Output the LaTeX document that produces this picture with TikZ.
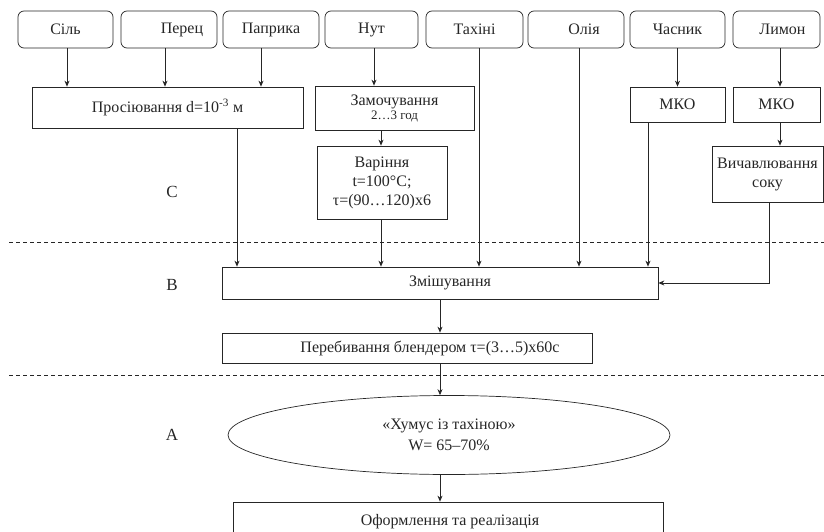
\documentclass[tikz,border=0pt]{standalone}
\usepackage{fontspec}
\setmainfont{Liberation Serif}
\usetikzlibrary{arrows.meta,shapes.geometric}
\begin{document}
\begin{tikzpicture}[x=1pt,y=-1pt,
 line width=0.7pt, draw=black!85,
 every node/.style={font=\fontsize{16}{19}\selectfont, inner sep=0pt, align=center, text=black!85},
 ingr/.style={draw, rounded corners=6pt},
 proc/.style={draw},
 arr/.style={-{Stealth[length=6pt,width=5pt]}},
 sepline/.style={dash pattern=on 4pt off 3pt},
 lbl/.style={font=\fontsize{17}{19}\selectfont}]
\useasboundingbox (0,0) rectangle (824,532);
\clip (0,0) rectangle (824,532);
% ingredients
\node[ingr, minimum width=95, minimum height=37] (sil) at (65.5,29.5) {Сіль};
\node[ingr, minimum width=96, minimum height=37] (per) at (169,29.5) {\hspace*{26pt}\raisebox{2pt}{Перец}};
\node[ingr, minimum width=96, minimum height=37] (pap) at (271,29.5) {Паприка};
\node[ingr, minimum width=93, minimum height=37] (nut) at (371.5,29.5) {Нут};
\node[ingr, minimum width=97, minimum height=37] (tah) at (474.5,29.5) {Тахіні};
\node[ingr, minimum width=96, minimum height=37] (ol) at (576,29.5) {\hspace*{16pt}Олія};
\node[ingr, minimum width=87, minimum height=37] (lym) at (776.5,29.5) {\hspace*{12pt}Лимон};
\node[ingr, minimum width=95, minimum height=37] (ch) at (677.5,29.5) {Часник};
% processes
\node[proc, minimum width=271, minimum height=41] (pros) at (167.5,107.5) {Просіювання d=10\textsuperscript{-3} м};
\node[proc, minimum width=159, minimum height=44] (zam) at (394.5,108) {Замочування\\[-5pt]{\fontsize{13}{15}\selectfont 2…3 год}};
\node[proc, minimum width=95, minimum height=35] (mko1) at (677.5,104.5) {МКО};
\node[proc, minimum width=87, minimum height=35] (mko2) at (776.5,104.5) {МКО};
\node[proc, minimum width=130, minimum height=73] (var) at (382,182.5) {Варіння\\t=100°C;\\τ=(90…120)x6};
\node[proc, minimum width=111, minimum height=56] (vych) at (767.5,174) {Вичавлювання\\соку};
\node[proc, minimum width=436, minimum height=32] (zm) at (440,283) {\hspace*{20pt}Змішування};
\node[proc, minimum width=370, minimum height=30] (per2) at (407,348) {\hspace*{46pt}Перебивання блендером τ=(3…5)x60с};
\node[draw, ellipse, minimum width=442, minimum height=79, font=\fontsize{16}{21}\selectfont] (hum) at (449,435) {«Хумус із тахіною»\\W= 65–70\%};
\node[proc, minimum width=430, minimum height=40] (of) at (448,522) {};
\node at (450,522) (oft) {Оформлення та реалізація};
% labels
\node[lbl] (lc) at (172,192) {C};
\node[lbl] (lb) at (172,285) {B};
\node[lbl] (la) at (172,435) {A};
% separators
\draw[sepline] (9,242) -- (824,242);
\draw[sepline] (9,375) -- (824,375);
% x positions
\coordinate (xsil) at (67,0);
\coordinate (xper) at (165,0);
\coordinate (xpap) at (261,0);
\coordinate (xnut) at (374,0);
\coordinate (xpros) at (237,0);
\coordinate (xzam) at (381,0);
\coordinate (xtah) at (479,0);
\coordinate (xol) at (579,0);
\coordinate (xch) at (677.5,0);
\coordinate (xch2) at (648,0);
\coordinate (xlym) at (780,0);
\coordinate (xvy) at (769,0);
\coordinate (xmid) at (440,0);
% connectors
\draw[arr] (sil.south -| xsil) -- (pros.north -| xsil);
\draw[arr] (per.south -| xper) -- (pros.north -| xper);
\draw[arr] (pap.south -| xpap) -- (pros.north -| xpap);
\draw[arr] (nut.south -| xnut) -- (zam.north -| xnut);
\draw[arr] (ch.south -| xch) -- (mko1.north -| xch);
\draw[arr] (lym.south -| xlym) -- (mko2.north -| xlym);
\draw[arr] (zam.south -| xzam) -- (var.north -| xzam);
\draw[arr] (mko2.south -| xlym) -- (vych.north -| xlym);
\draw[arr] (pros.south -| xpros) -- (zm.north -| xpros);
\draw[arr] (var.south -| xzam) -- (zm.north -| xzam);
\draw[arr] (tah.south -| xtah) -- (zm.north -| xtah);
\draw[arr] (ol.south -| xol) -- (zm.north -| xol);
\draw[arr] (mko1.south -| xch2) -- (zm.north -| xch2);
\draw[arr] (vych.south -| xvy) |- (zm.east);
\draw[arr] (zm.south -| xmid) -- (per2.north -| xmid);
\draw[arr] (per2.south -| xmid) -- (hum.north -| xmid);
\draw[arr] (hum.south -| xmid) -- (of.north -| xmid);
\end{tikzpicture}
\end{document}
